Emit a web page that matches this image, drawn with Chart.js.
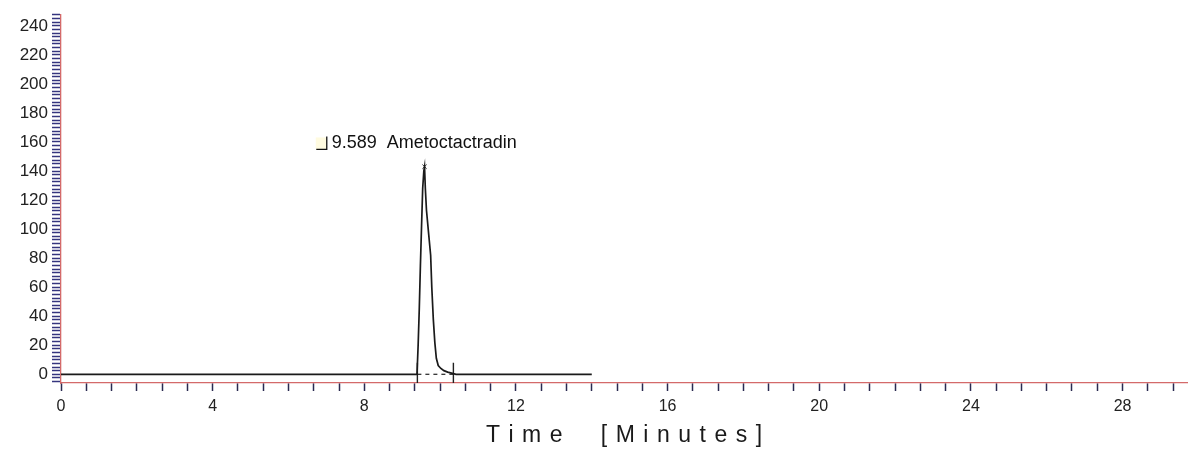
<!DOCTYPE html>
<html>
<head>
<meta charset="utf-8">
<script src="https://cdn.jsdelivr.net/npm/chart.js@4.4.1/dist/chart.umd.min.js"></script>
<style>
  html, body { margin: 0; padding: 0; background: #fff; }
  #wrap { width: 1192px; height: 450px; }
</style>
</head>
<body>
<div id="wrap"><canvas id="chrom" width="1192" height="450"></canvas></div>
<script>
// chromatogram trace
const times    = [0, 9.39, 9.42, 9.45, 9.48, 9.51, 9.54, 9.57, 9.589, 9.61, 9.64, 9.70, 9.75, 9.78, 9.82, 9.86, 9.90, 9.95, 10.02, 10.10, 10.20, 10.30, 10.42, 14.0];
const response = [0, 0,    20,   45,   75,   102,  128,  140,  143,   128,  113,  96,   82,   60,   38,   22,   11,   6,    4,     2.5,   1.5,   0.8,   0,     0];

// integration start / end and apex
const peakStart = 9.40;
const peakEnd   = 10.35;
const peakTime  = 9.589;
const peakTop   = 143;
const peakName  = 'Ametoctactradin';

// axis ticks
const xTickLabels = [0, 4, 8, 12, 16, 20, 24, 28];
const yTickLabels = [0, 20, 40, 60, 80, 100, 120, 140, 160, 180, 200, 220, 240];
const xMinorStep = 2 / 3;
const yMinorStep = 2.5;

const AXIS_RED = '#d46a6a';
const TICK_INK = '#35357f';
const FONT = 'Arial, "Liberation Sans", sans-serif';

function near(v, list) {
  return list.find(t => Math.abs(t - v) < 1e-6);
}

// draws text with extra spacing between letters
function spacedText(ctx, str, x, y, gap) {
  let w = 0;
  for (const ch of str) w += ctx.measureText(ch).width + gap;
  w -= gap;
  let cx = x - w / 2;
  for (const ch of str) {
    ctx.fillText(ch, cx, y);
    cx += ctx.measureText(ch).width + gap;
  }
}

const extras = {
  id: 'extras',
  afterDraw(chart) {
    const { ctx, chartArea, scales } = chart;
    ctx.save();

    // peak label with little box marker
    const bx = scales.x.getPixelForValue(6.72);
    const by = scales.y.getPixelForValue(159);
    ctx.fillStyle = '#fffbe0';
    ctx.fillRect(bx, by - 6, 11, 12);
    ctx.strokeStyle = '#111';
    ctx.lineWidth = 1.3;
    ctx.beginPath();
    ctx.moveTo(bx + 0.5, by + 6);
    ctx.lineTo(bx + 11, by + 6);
    ctx.lineTo(bx + 11, by - 7);
    ctx.stroke();
    ctx.fillStyle = '#111';
    ctx.font = '18px ' + FONT;
    ctx.textBaseline = 'middle';
    ctx.textAlign = 'left';
    ctx.fillText(peakTime.toFixed(3) + '  ' + peakName, bx + 16, by);

    // axis title
    ctx.font = '23px ' + FONT;
    ctx.fillStyle = '#1a1a1a';
    ctx.textAlign = 'left';
    ctx.textBaseline = 'alphabetic';
    const cx = (chartArea.left + chartArea.right) / 2;
    spacedText(ctx, 'Time  [Minutes]', cx, 442, 8.5);

    ctx.restore();
  }
};

const seg = (t, lo, hi) => [{ x: t, y: lo }, { x: t, y: hi }];

new Chart(document.getElementById('chrom'), {
  type: 'line',
  data: {
    datasets: [
      {
        data: times.map((t, i) => ({ x: t, y: response[i] })),
        borderColor: '#1a1a1a',
        borderWidth: 1.7,
        pointRadius: 0,
        tension: 0
      },
      {
        data: [{ x: peakStart, y: 0 }, { x: peakEnd, y: 0 }],
        borderColor: '#222',
        borderWidth: 1.2,
        borderDash: [4, 4],
        pointRadius: 0
      },
      {
        data: seg(peakStart, -6, 8),
        borderColor: '#222',
        borderWidth: 1.4,
        pointRadius: 0
      },
      {
        data: seg(peakEnd, -6, 8),
        borderColor: '#222',
        borderWidth: 1.4,
        pointRadius: 0
      },
      {
        data: [{ x: peakTime, y: peakTop }],
        showLine: false,
        pointStyle: 'crossRot',
        pointRadius: 3,
        borderColor: '#333',
        borderWidth: 1
      }
    ]
  },
  options: {
    responsive: false,
    animation: false,
    layout: { padding: { top: 13, right: 0, left: 0, bottom: 0 } },
    plugins: {
      legend: { display: false },
      tooltip: { enabled: false }
    },
    scales: {
      x: {
        type: 'linear',
        min: 0,
        max: 29.7,
        afterFit: s => { s.height = 67; },
        afterBuildTicks: s => {
          const t = [];
          for (let i = 0; i * xMinorStep <= s.max; i++) t.push({ value: i * xMinorStep });
          s.ticks = t;
        },
        border: { color: AXIS_RED, width: 1.3 },
        grid: {
          drawOnChartArea: false,
          drawTicks: true,
          tickLength: 8,
          tickColor: '#2a2a50',
          tickWidth: 1.5
        },
        ticks: {
          autoSkip: false,
          maxRotation: 0,
          padding: 6,
          color: '#222',
          font: { size: 16, family: FONT },
          callback: v => {
            const l = near(v, xTickLabels);
            return l === undefined ? '' : String(l);
          }
        }
      },
      y: {
        min: -6,
        max: 248,
        afterFit: s => { s.width = 61; },
        afterBuildTicks: s => {
          const t = [];
          for (let i = -2; i * yMinorStep <= s.max; i++) t.push({ value: i * yMinorStep });
          s.ticks = t;
        },
        border: { color: AXIS_RED, width: 1.3 },
        grid: {
          drawOnChartArea: false,
          drawTicks: true,
          tickLength: 9,
          tickColor: TICK_INK,
          tickWidth: 1.5
        },
        ticks: {
          autoSkip: false,
          padding: 4,
          color: '#222',
          font: { size: 17, family: FONT },
          callback: v => {
            const l = near(v, yTickLabels);
            return l === undefined ? '' : String(l);
          }
        }
      }
    }
  },
  plugins: [extras]
});
</script>
</body>
</html>
